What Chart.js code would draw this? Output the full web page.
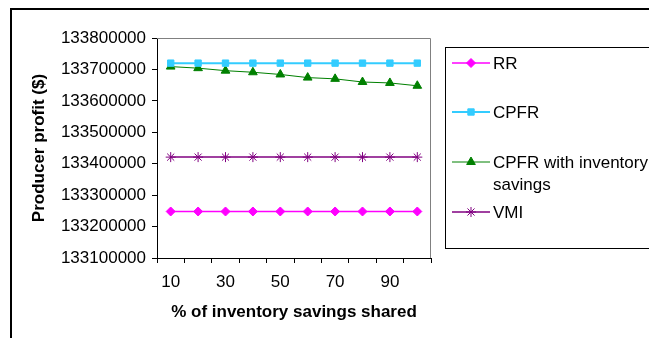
<!DOCTYPE html>
<html>
<head>
<meta charset="utf-8">
<script src="https://cdn.jsdelivr.net/npm/chart.js@4/dist/chart.umd.min.js"></script>
<style>
  html, body { margin: 0; padding: 0; background: #fff; }
  #wrap { position: relative; width: 649px; height: 338px; }
</style>
</head>
<body>
<div id="wrap"><canvas id="c" width="649" height="338"></canvas></div>
<script>
// % of inventory savings shared
const categories = ['10', '20', '30', '40', '50', '60', '70', '80', '90', '100'];

// Producer profit ($) per scenario
const rr       = [133248000, 133248000, 133248000, 133248000, 133248000, 133248000, 133248000, 133248000, 133248000, 133248000];
const cpfr     = [133720000, 133720000, 133720000, 133720000, 133720000, 133720000, 133720000, 133720000, 133720000, 133720000];
const cpfrInv  = [133709000, 133704000, 133696000, 133691000, 133684000, 133674000, 133670000, 133660000, 133657000, 133648000];
const vmi      = [133421000, 133421000, 133421000, 133421000, 133421000, 133421000, 133421000, 133421000, 133421000, 133421000];

const seriesNames = ['RR', 'CPFR', ['CPFR with inventory', 'savings'], 'VMI'];
const yTicks = { min: 133100000, max: 133800000, step: 100000 };
const xLabelsShown = ['10', '30', '50', '70', '90'];

const FONT = "'Liberation Sans', Arial, sans-serif";

const series = [
  { name: seriesNames[0], data: rr,      color: '#FF00FF', style: 'rectRot',  radius: 4.5, width: 1.5 },
  { name: seriesNames[1], data: cpfr,    color: '#33CCFF', style: 'rect',     radius: 4.5, width: 2 },
  { name: seriesNames[2], data: cpfrInv, color: '#008000', style: 'triangle', radius: 5,   width: 1 },
  { name: seriesNames[3], data: vmi,     color: '#800080', style: 'star',     radius: 5,   width: 1.5 }
];

// outer frame around the whole graphic
const framePlugin = {
  id: 'frame',
  beforeDraw(chart) {
    const ctx = chart.ctx;
    ctx.save();
    ctx.fillStyle = '#fff';
    ctx.fillRect(0, 0, chart.width, chart.height);
    ctx.fillStyle = '#000';
    ctx.fillRect(10, 8, chart.width - 10, 2);
    ctx.fillRect(10, 8, 2, chart.height - 8);
    ctx.restore();
  },
  afterDatasetsDraw(chart) {
    // plot area border: grey on top and right
    const a = chart.chartArea, ctx = chart.ctx;
    ctx.save();
    ctx.strokeStyle = '#808080';
    ctx.lineWidth = 1;
    ctx.beginPath();
    ctx.moveTo(a.left, a.top + 0.5);
    ctx.lineTo(a.right - 0.5, a.top + 0.5);
    ctx.lineTo(a.right - 0.5, a.bottom);
    ctx.stroke();
    ctx.restore();
  }
};

// boxed legend to the right of the plot
const legendPlugin = {
  id: 'boxLegend',
  afterDraw(chart) {
    const ctx = chart.ctx;
    const box = { x: 445.5, y: 47.5, w: 260, h: 201 };
    const rows = [63, 112, 162, 212];
    ctx.save();
    ctx.strokeStyle = '#000';
    ctx.lineWidth = 1;
    ctx.strokeRect(box.x, box.y, box.w, box.h);
    ctx.font = '17px ' + FONT;
    ctx.textBaseline = 'middle';
    ctx.textAlign = 'left';
    chart.data.datasets.forEach((ds, i) => {
      const y = rows[i];
      ctx.strokeStyle = ds.borderColor;
      ctx.lineWidth = ds.borderWidth;
      ctx.beginPath();
      ctx.moveTo(452, y);
      ctx.lineTo(490, y);
      ctx.stroke();
      const opts = {
        pointStyle: ds.pointStyle, radius: ds.pointRadius, rotation: 0,
        borderWidth: 1
      };
      ctx.fillStyle = ds.pointBackgroundColor;
      ctx.strokeStyle = ds.pointBorderColor;
      ctx.lineWidth = 1;
      Chart.helpers.drawPoint(ctx, opts, 471, y);
      ctx.fillStyle = '#000';
      const lines = Array.isArray(ds.label) ? ds.label : [ds.label];
      lines.forEach((t, k) => ctx.fillText(t, 493, y + 1 + k * 22));
    });
    ctx.restore();
  }
};

new Chart(document.getElementById('c'), {
  type: 'line',
  data: {
    labels: categories,
    datasets: series.map(s => ({
      label: s.name,
      data: s.data,
      borderColor: s.color,
      backgroundColor: s.color,
      pointBackgroundColor: s.color,
      pointBorderColor: s.color,
      pointBorderWidth: 1,
      borderWidth: s.width,
      pointStyle: s.style,
      pointRadius: s.radius,
      tension: 0
    }))
  },
  options: {
    responsive: false,
    animation: false,
    devicePixelRatio: 1,
    layout: { padding: { top: 38, right: 218, bottom: 0, left: 0 } },
    plugins: { legend: { display: false }, tooltip: { enabled: false } },
    scales: {
      x: {
        type: 'category',
        offset: true,
        border: { display: true, color: '#000', width: 1 },
        grid: { display: true, offset: true, drawOnChartArea: false, color: '#000', tickLength: 5 },
        ticks: {
          autoSkip: false, maxRotation: 0, padding: 9, color: '#000',
          font: { family: FONT, size: 17 },
          callback(v, i) {
            const lab = categories[i];
            return xLabelsShown.includes(lab) ? lab : '';
          }
        },
        title: {
          display: true, text: '% of inventory savings shared', color: '#000',
          font: { family: FONT, size: 17, weight: 'bold' },
          padding: { top: 0, bottom: 15 }
        },
        afterFit(scale) { scale.height = 80; }
      },
      y: {
        min: yTicks.min, max: yTicks.max,
        border: { display: true, color: '#000', width: 1 },
        grid: { display: true, drawOnChartArea: false, color: '#000', tickLength: 5 },
        ticks: {
          stepSize: yTicks.step, padding: 6, color: '#000',
          font: { family: FONT, size: 17 },
          callback(v) { return String(v); }
        },
        title: {
          display: true, text: 'Producer profit ($)', color: '#000',
          font: { family: FONT, size: 17, weight: 'bold' },
          padding: { top: 29, bottom: 0 }
        },
        afterFit(scale) { scale.width = 157; }
      }
    }
  },
  plugins: [framePlugin, legendPlugin]
});
</script>
</body>
</html>
